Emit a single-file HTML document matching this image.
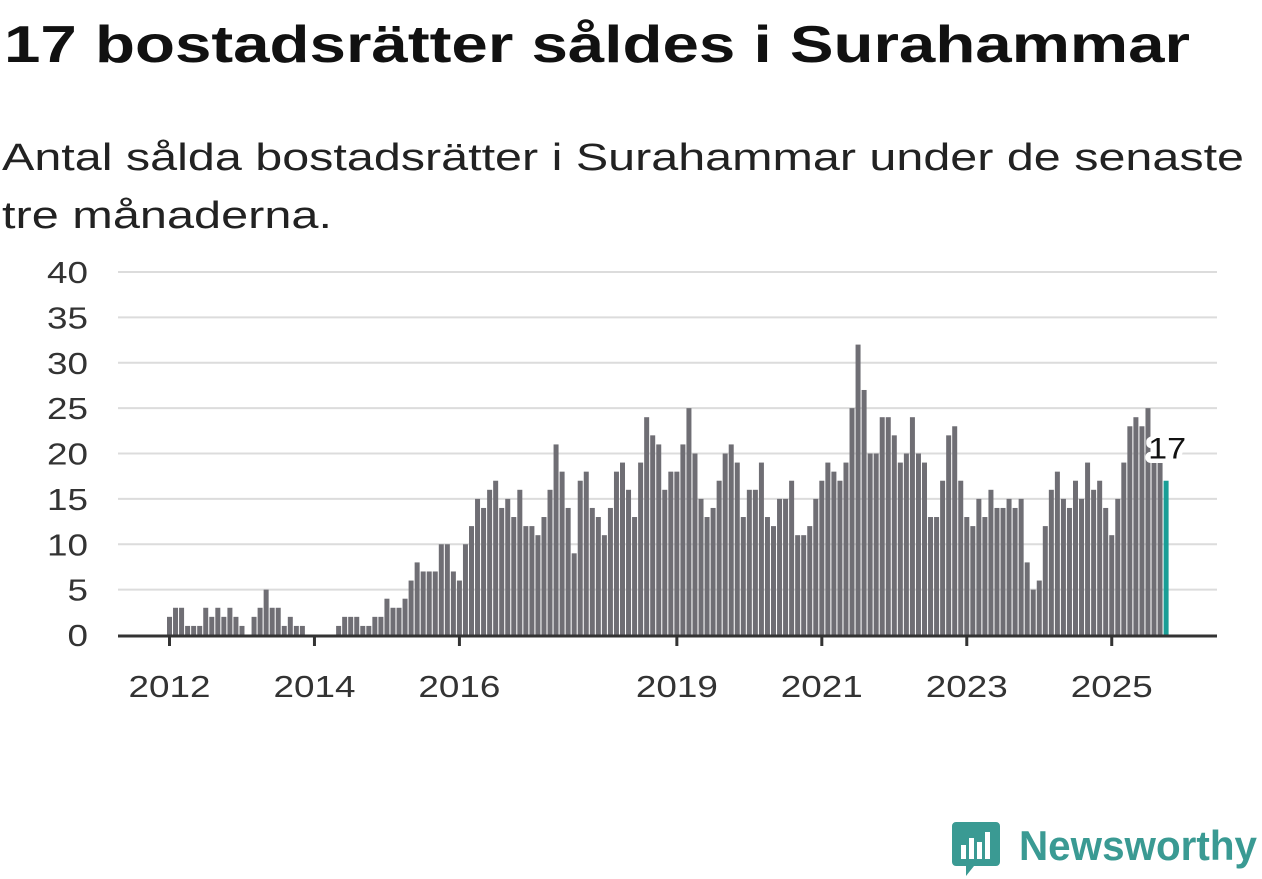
<!DOCTYPE html>
<html><head><meta charset="utf-8"><style>
html,body{margin:0;padding:0;background:#fff;}
svg{display:block;font-family:"Liberation Sans","DejaVu Sans",sans-serif;}
</style></head><body>
<svg id="chart" width="1262" height="879" viewBox="0 0 1262 879" xmlns="http://www.w3.org/2000/svg">
<text x="4" y="62" font-size="52" font-weight="bold" fill="#111" textLength="1186" lengthAdjust="spacingAndGlyphs">17 bostadsrätter såldes i Surahammar</text>
<text x="2" y="170" font-size="38" fill="#222" textLength="1242" lengthAdjust="spacingAndGlyphs">Antal sålda bostadsrätter i Surahammar under de senaste</text>
<text x="2" y="228" font-size="38" fill="#222" textLength="330" lengthAdjust="spacingAndGlyphs">tre månaderna.</text>
<g id="grid"></g>
<g id="ylabels"></g>
<g id="bars"></g>
<g id="xaxis"></g>
<g id="anno"></g>
<g>
<path d="M956 822 h40 a4 4 0 0 1 4 4 v36 a4 4 0 0 1 -4 4 h-22 l-8 10 v-10 h-10 a4 4 0 0 1 -4 -4 v-36 a4 4 0 0 1 4 -4z" fill="#3a9a93"/>
<rect x="961" y="845" width="5" height="14" fill="#fff"/>
<rect x="969" y="838" width="5" height="21" fill="#fff"/>
<rect x="977" y="842" width="5" height="17" fill="#fff"/>
<rect x="985" y="832" width="5" height="27" fill="#fff"/>
<text x="1019" y="860" font-size="42" font-weight="bold" fill="#3a9a93" textLength="238" lengthAdjust="spacingAndGlyphs">Newsworthy</text>
</g>
</svg>
<script>
const values = [2,3,3,1,1,1,3,2,3,2,3,2,1,0,2,3,5,3,3,1,2,1,1,
0,0,0,0,0,
1,2,2,2,1,1,2,2,4,3,3,
4,6,8,7,7,7,10,10,7,6,10,12,15,14,16,17,14,15,13,16,12,12,11,13,16,21,18,14,9,17,18,14,13,11,14,18,19,16,13,19,24,22,21,16,18,18,21,25,20,15,
13,14,17,20,21,19,13,16,16,19,13,12,15,15,17,11,11,12,15,17,19,18,17,19,25,32,27,20,20,24,24,22,19,20,24,20,19,13,13,17,
22,23,17,13,12,15,13,16,14,14,15,14,15,8,5,6,12,16,18,15,14,17,15,19,16,17,14,11,15,19,23,24,23,25,19,19,17];
const startYear = 2012;
const yTicks = [0,5,10,15,20,25,30,35,40];
const xTickYears = [2012,2014,2016,2019,2021,2023,2025];

const NS='http://www.w3.org/2000/svg';
const y0=635, yTop=272, yMax=40;
const yScale=v=>y0-(y0-yTop)*v/yMax;
const step=6.04, x0=167, bw=5;
const xScale=i=>x0+i*step;
function mk(tag,attrs,parent){const e=document.createElementNS(NS,tag);for(const k in attrs)e.setAttribute(k,attrs[k]);parent.appendChild(e);return e;}
const grid=document.getElementById('grid'), yl=document.getElementById('ylabels'), bars=document.getElementById('bars'), xa=document.getElementById('xaxis'), anno=document.getElementById('anno');
yTicks.forEach(t=>{
  if(t>0){const l=mk('line',{x1:118,x2:1217,y1:yScale(t),y2:yScale(t),stroke:'#dcdcdc','stroke-width':2},grid);
  
  }
  const s=String(t);
  const tx=mk('text',{x:88,y:yScale(t)+11,'font-size':31,'text-anchor':'end',fill:'#333',textLength:s.length*20.5,lengthAdjust:'spacingAndGlyphs'},yl);
  tx.textContent=s;
  
  
});
values.forEach((v,i)=>{
  const last=i===values.length-1;
  const r=mk('rect',{x:xScale(i),y:yScale(v),width:bw,height:y0-yScale(v),fill:last?'#1a9e96':'#6f6e74'},bars);
  
  
});
const ax=mk('line',{x1:118,x2:1217,y1:y0+1,y2:y0+1,stroke:'#333','stroke-width':3},xa);


xTickYears.forEach(yr=>{
  const x=xScale((yr-startYear)*12)+bw/2;
  const tk=mk('line',{x1:x,x2:x,y1:y0,y2:y0+11,stroke:'#333','stroke-width':3},xa);
  
  
  const t=mk('text',{x:x-41,y:y0+62,'font-size':31,fill:'#333',textLength:82,lengthAdjust:'spacingAndGlyphs'},xa);
  t.textContent=yr;
  
  
});
const li=values.length-1;
const lx=xScale(li)+bw/2, ly=yScale(values[li])-1-1-20;
const halo=mk('text',{x:lx-18,y:ly,'font-size':30,fill:'#fff',stroke:'#fff','stroke-width':9,'stroke-linejoin':'round',textLength:38,lengthAdjust:'spacingAndGlyphs'},anno);
halo.textContent=values[li];


const lab=mk('text',{x:lx-18,y:ly,'font-size':30,fill:'#111',textLength:38,lengthAdjust:'spacingAndGlyphs'},anno);
lab.textContent=values[li];


</script>
</body></html>
